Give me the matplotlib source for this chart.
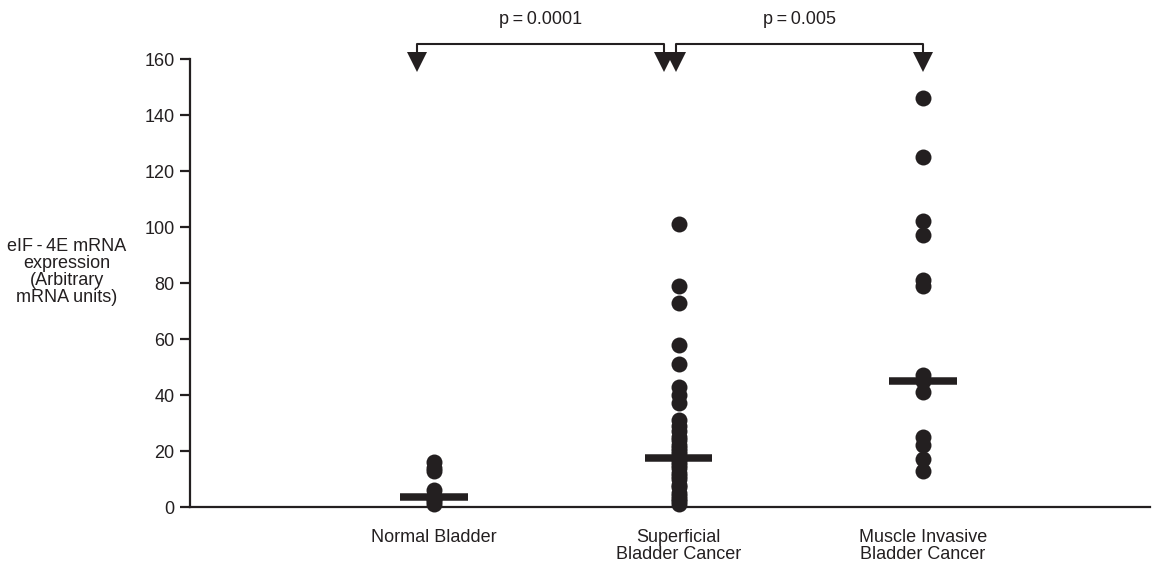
import matplotlib

matplotlib.use("Agg")
import matplotlib.pyplot as plt  # noqa: E402

# values (arbitrary mRNA units)
groups = ["Normal Bladder", "Superficial\nBladder Cancer", "Muscle Invasive\nBladder Cancer"]
normal = [16, 14, 13, 6, 4, 3, 2, 1]
superficial = [101, 79, 73, 58, 51, 43, 40, 37, 31, 29, 27, 25, 24, 22, 21, 20,
               19, 18, 17, 16, 15, 14, 12, 11, 10, 8, 7, 5, 4, 3, 2, 1]
muscle = [146, 125, 102, 97, 81, 79, 47, 45, 41, 25, 22, 17, 13]
medians = [3.6, 17.6, 45]
yticks = [0, 20, 40, 60, 80, 100, 120, 140, 160]
# comparison brackets: left end, right end, label
brackets = [(-0.07, 0.94, "p\u2009=\u20090.0001"), (0.99, 2.0, "p\u2009=\u20090.005")]

INK = "#231f20"
plt.rcParams["font.family"] = ["Liberation Sans", "DejaVu Sans"]
plt.rcParams["font.size"] = 13

fig = plt.figure(figsize=(11.65, 5.66), dpi=100)
ax = fig.add_axes([190 / 1165, 1 - 507 / 566, 960 / 1165, 448 / 566])

for i, vals in enumerate([normal, superficial, muscle]):
    ax.plot([i] * len(vals), vals, "o", color=INK, ms=11.5, mew=0,
            clip_on=False, zorder=3)
    ax.plot([i - 0.138, i + 0.138], [medians[i]] * 2, color=INK, lw=5.4,
            solid_capstyle="butt", zorder=4)

for x0, x1, label in brackets:
    ax.plot([x0, x0, x1, x1], [161, 165.4, 165.4, 161], color=INK, lw=1.5,
            clip_on=False)
    ax.plot([x0, x1], [159, 159], "v", color=INK, ms=14, mew=0, clip_on=False)
    ax.text((x0 + x1) / 2, 174, label, ha="center", va="center", color=INK,
            clip_on=False)

ax.set_xlim(-0.998, 2.928)
ax.set_ylim(0, 160)
ax.set_yticks(yticks)
ax.set_xticks(range(len(groups)))
ax.set_xticklabels(groups, linespacing=0.95)
ax.tick_params(axis="x", length=0, pad=16, colors=INK)
ax.tick_params(axis="y", length=7, width=1.6, pad=4, colors=INK)
for side in ["top", "right"]:
    ax.spines[side].set_visible(False)
for side in ["left", "bottom"]:
    ax.spines[side].set_linewidth(1.6)
    ax.spines[side].set_color(INK)

fig.text(67 / 1165, 1 - 272 / 566,
         "eIF\u2009-\u20094E mRNA\nexpression\n(Arbitrary\nmRNA units)",
         ha="center", va="center", multialignment="center", linespacing=1.0,
         color=INK)

fig.savefig("out.png", dpi=100)
plt.close(fig)
